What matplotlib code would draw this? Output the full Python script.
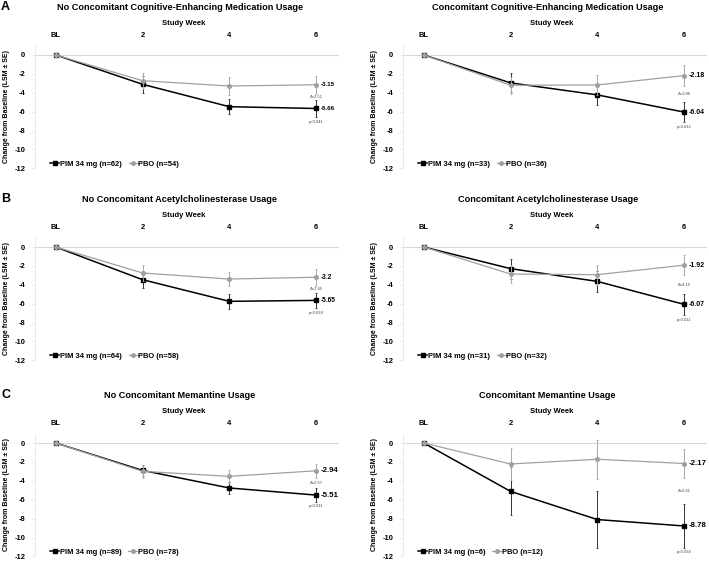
import matplotlib
matplotlib.use('Agg')
import matplotlib.pyplot as plt
from matplotlib.lines import Line2D

plt.rcParams['font.family'] = ['Liberation Sans', 'DejaVu Sans']

weeks = [0, 2, 4, 6]
week_lbl = ['BL', '2', '4', '6']

titles = ['No Concomitant Cognitive-Enhancing Medication Usage',
          'Concomitant Cognitive-Enhancing Medication Usage',
          'No Concomitant Acetylcholinesterase Usage',
          'Concomitant Acetylcholinesterase Usage',
          'No Concomitant Memantine Usage',
          'Concomitant Memantine Usage']
letters = ['A', 'B', 'C']

# LSM change from baseline and SE
pim = [[0, -3.10, -5.47, -5.66],
       [0, -2.95, -4.22, -6.04],
       [0, -3.46, -5.75, -5.65],
       [0, -2.29, -3.64, -6.07],
       [0, -2.90, -4.76, -5.51],
       [0, -5.12, -8.10, -8.78]]
pim_se = [[0, 0.93, 0.80, 0.88],
          [0, 1.00, 1.10, 1.10],
          [0, 0.90, 0.80, 0.82],
          [0, 1.05, 1.10, 1.12],
          [0, 0.62, 0.68, 0.70],
          [0, 2.54, 3.00, 2.28]]
pbo = [[0, -2.72, -3.28, -3.15],
       [0, -3.20, -3.17, -2.18],
       [0, -2.75, -3.39, -3.20],
       [0, -2.86, -2.93, -1.92],
       [0, -3.00, -3.53, -2.94],
       [0, -2.22, -1.72, -2.17]]
pbo_se = [[0, 0.85, 0.93, 0.95],
          [0, 0.90, 1.05, 1.10],
          [0, 0.88, 0.78, 0.88],
          [0, 1.00, 1.05, 1.08],
          [0, 0.67, 0.70, 0.72],
          [0, 1.70, 2.07, 1.58]]
n_pim = [62, 33, 64, 31, 89, 6]
n_pbo = [54, 36, 58, 32, 78, 12]
delta = ['2.51', '3.86', '2.45', '4.15', '2.57', '6.61']
pval = ['0.041', '0.012', '0.039', '0.011', '0.011', '0.034']
lblsize = [4.4, 5.0, 4.7, 5.0, 5.7, 5.7]

W, H = 709., 561.
fig = plt.figure(figsize=(W/100, H/100), dpi=100)

lefts = [35, 403]
zeros = [55, 247, 443]
ppu = 9.45  # pixels per y unit
xmin, xmax = -0.48, 6.53
axw = 304

for i in range(6):
    r, c = divmod(i, 2)
    top = zeros[r] - ppu*1
    bot = zeros[r] + ppu*12
    ax = fig.add_axes([lefts[c]/W, 1-bot/H, axw/W, (bot-top)/H])
    ax.set_xlim(xmin, xmax)
    ax.set_ylim(-12, 1)
    ax.axhline(0, color='#d9d9d9', lw=0.8, zorder=0)

    ax.errorbar(weeks, pim[i], yerr=pim_se[i], color='black', lw=1.1,
                marker='s', ms=3.2, ecolor='#333333', elinewidth=0.7,
                capsize=1.0, capthick=0.6, zorder=3)
    ax.errorbar(weeks, pbo[i], yerr=pbo_se[i], color='#a0a0a0', lw=0.9,
                marker='o', ms=2.6, ecolor='#a8a8a8', elinewidth=0.7,
                capsize=1.0, capthick=0.6, zorder=4)

    # end-point labels
    for ser in (pbo[i], pim[i]):
        ax.annotate('%g' % ser[-1], (weeks[-1], ser[-1]), xytext=(3.5, 0),
                    textcoords='offset points', va='center', ha='left',
                    fontsize=lblsize[i], fontweight='bold')
    yd = ((pbo[i][-1]-pbo_se[i][-1]) + (pim[i][-1]+pim_se[i][-1]))/2
    ax.text(weeks[-1], yd, '\u0394=' + delta[i], fontsize=3.0, color='#444444',
            ha='center', va='center')
    yp = pim[i][-1] - pim_se[i][-1] - 0.5
    ax.text(weeks[-1], yp, 'p=' + pval[i], fontsize=3.0, color='#444444',
            ha='center', va='center')

    ax.xaxis.tick_top()
    ax.set_xticks(weeks)
    ax.set_xticklabels(week_lbl, fontsize=5.4, fontweight='bold')
    ax.tick_params(axis='x', length=0, pad=4.5)
    ax.set_yticks(range(0, -13, -2))
    ax.set_yticklabels([str(v) for v in range(0, -13, -2)], fontsize=5.4,
                       fontweight='bold')
    ax.tick_params(axis='y', length=2, width=0.5, color='#e0e0e0', pad=5)
    for s in ['top', 'right', 'bottom']:
        ax.spines[s].set_visible(False)
    ax.spines['left'].set_color('#e6e6e6')
    ax.spines['left'].set_linewidth(0.6)

    ax.set_ylabel('Change from Baseline (LSM \u00b1 SE)', fontsize=5.0,
                  fontweight='bold')
    ax.yaxis.set_label_coords(-25/axw, 0.5)

    ax.annotate('Study Week', (0.49, 1), xycoords='axes fraction',
                xytext=(0, 15.8), textcoords='offset points', ha='center',
                va='center', fontsize=5.5, fontweight='bold')
    ax.annotate(titles[i], (0.476, 1), xycoords='axes fraction',
                xytext=(0, 27.4), textcoords='offset points', ha='center',
                va='center', fontsize=6.6, fontweight='bold')

    handles = [Line2D([], [], color='black', lw=1.1, marker='s', ms=3.2),
               Line2D([], [], color='#a0a0a0', lw=0.9, marker='o', ms=2.6)]
    ax.legend(handles, ['PIM 34 mg (n=%d)' % n_pim[i], 'PBO (n=%d)' % n_pbo[i]],
              loc='center left', bbox_to_anchor=(0.04, 0.035), ncol=2,
              frameon=False, prop={'size': 5.4, 'weight': 'bold'},
              handlelength=1.2, handletextpad=0.1, columnspacing=0.9,
              borderaxespad=0)

for r in range(3):
    fig.text(1/W, 1-(zeros[r]-48)/H, letters[r], fontsize=9, fontweight='bold',
             ha='left', va='center')

fig.savefig('out.png', dpi=100)
